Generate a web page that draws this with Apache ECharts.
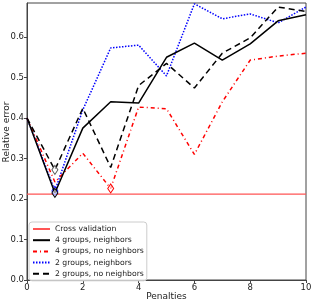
<!DOCTYPE html>
<html><head><meta charset="utf-8">
<script src="https://cdn.jsdelivr.net/npm/echarts@6/dist/echarts.min.js"></script>
<style>html,body{margin:0;padding:0;background:#fff}#c{width:314px;height:303px}</style>
</head><body><div id="c"></div>
<script>
const penalties = [0,1,2,3,4,5,6,7,8,9,10];
const crossValidation = 0.212;
const g4Neighbors   = [0.40,0.215,0.375,0.44,0.437,0.55,0.585,0.543,0.583,0.64,0.655];
const g4NoNeighbors = [0.40,0.242,0.313,0.226,0.427,0.423,0.31,0.44,0.543,0.553,0.56];
const g2Neighbors   = [0.40,0.22,0.42,0.573,0.58,0.504,0.682,0.645,0.657,0.635,0.674];
const g2NoNeighbors = [0.40,0.272,0.424,0.278,0.48,0.535,0.474,0.56,0.598,0.674,0.663];
const xTicks = [0,2,4,6,8,10];
const yTicks = [0,0.1,0.2,0.3,0.4,0.5,0.6];

const font = 'DejaVu Sans';
function mk(name, vals, color, type, width, mcolor, z){
  let mi = 0; vals.forEach((v,i)=>{ if(v<vals[mi]) mi=i; });
  return {
    name, type:'line', symbol:'none', z:z,
    lineStyle:{color, type, width},
    itemStyle:{color},
    data: vals.map((v,i)=> i===mi ? {value:[penalties[i],v], symbol:'diamond', symbolSize:[6,9],
      itemStyle:{color:'rgba(255,255,255,0.6)', borderColor:mcolor, borderWidth:1}} : [penalties[i],v]),
    animation:false
  };
}
const chart = echarts.init(document.getElementById('c'), null, {renderer:'canvas'});
chart.setOption({
  animation:false,
  grid:{left:27,right:8,top:3,bottom:23,outerBoundsMode:'none',containLabel:false,show:true,borderColor:'#444',borderWidth:1,backgroundColor:'transparent'},
  xAxis:{type:'value',min:0,max:10,interval:2,
    name:'Penalties',nameLocation:'middle',nameGap:12,nameMoveOverlap:false,nameTextStyle:{fontFamily:font,fontSize:9,color:'#222'},
    axisLine:{show:true,lineStyle:{color:'#444'}},axisTick:{show:true,length:3,lineStyle:{color:'#444'}},
    axisLabel:{fontFamily:font,fontSize:8.5,color:'#222',margin:3},splitLine:{show:false}},
  yAxis:{type:'value',min:0,max:0.684,interval:0.1,
    axisLine:{show:true,lineStyle:{color:'#444'}},axisTick:{show:true,length:3,lineStyle:{color:'#444'}},
    axisLabel:{fontFamily:font,fontSize:8.5,color:'#222',margin:3,showMaxLabel:false,formatter:v=>v.toFixed(1)},splitLine:{show:false}},
  graphic:[{type:'text',x:7,y:132,rotation:Math.PI/2,
    style:{text:'Relative error',fontFamily:font,fontSize:9,fill:'#222',align:'center',verticalAlign:'middle'}}],
  legend:{orient:'vertical',left:29,top:222,itemWidth:17,itemHeight:8,itemGap:3.2,padding:[3,3,3,3],
    backgroundColor:'rgba(255,255,255,0.8)',borderColor:'#ccc',borderWidth:1,borderRadius:3,
    itemStyle:{opacity:0},
    textStyle:{fontFamily:font,fontSize:7.7,color:'#222',padding:[0,0,0,0]},
    data:['Cross validation','4 groups, neighbors','4 groups, no neighbors','2 groups, neighbors','2 groups, no neighbors']},
  series:[
    {name:'Cross validation',type:'line',symbol:'none',z:2,lineStyle:{color:'#f55',width:1.2},itemStyle:{color:'#f55'},
      data:[[penalties[0],crossValidation],[penalties[penalties.length-1],crossValidation]]},
    mk('4 groups, neighbors', g4Neighbors, '#000', 'solid', 1.5, '#000', 6),
    mk('4 groups, no neighbors', g4NoNeighbors, '#f00', [4,3,1,3], 1.5, '#f00', 4),
    mk('2 groups, neighbors', g2Neighbors, '#00f', [1.5,1.5], 1.5, '#00f', 3),
    mk('2 groups, no neighbors', g2NoNeighbors, '#000', [6,4], 1.5, '#555', 5)
  ]
});
</script></body></html>
